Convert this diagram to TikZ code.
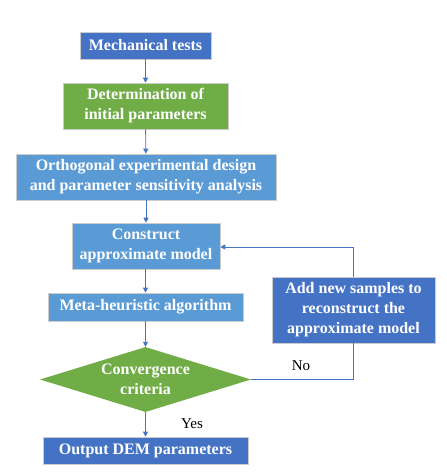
\documentclass[tikz,border=0pt]{standalone}
\usepackage{fontspec}
\setmainfont{Liberation Serif}
\usetikzlibrary{shapes.geometric,arrows.meta}
\definecolor{dblue}{HTML}{4472C4}
\definecolor{lblue}{HTML}{5B9BD5}
\definecolor{gr}{HTML}{70AD47}
\tikzset{
  box/.style={draw=white!80!black, line width=0.6pt, text=white, font=\bfseries\fontsize{16}{20}\selectfont, align=center, inner sep=0pt},
  conn/.style={draw=dblue, line width=0.9pt, -{Triangle[length=5pt,width=5pt]}},
  lbl/.style={font=\fontsize{15}{18}\selectfont, text=black}
}
\begin{document}
\begin{tikzpicture}[x=1pt,y=1pt]
\useasboundingbox (0,0) rectangle (447,-475);
\node[box, fill=dblue, minimum width=131pt, minimum height=27pt] (mt) at (145.5,-45.5) {Mechanical tests};
\node[box, fill=gr, minimum width=165pt, minimum height=46pt] (dp) at (145.5,-106) {Determination of\\initial parameters};
\node[box, fill=lblue, minimum width=260pt, minimum height=46pt] (oe) at (146,-177) {Orthogonal experimental design\\and parameter sensitivity analysis};
\node[box, fill=lblue, minimum width=148pt, minimum height=46pt] (ca) at (146,-246) {Construct\\approximate model};
\node[box, fill=lblue, minimum width=195pt, minimum height=28pt] (mh) at (145.5,-307) {Meta-heuristic algorithm};
\node[box, fill=dblue, minimum width=163pt, minimum height=66pt] (an) at (353.5,-310) {Add new samples to\\reconstruct the\\approximate model};
\node[diamond, fill=gr, text=white, font=\bfseries\fontsize{16}{20}\selectfont, align=center, inner sep=0pt, minimum width=211pt, minimum height=65pt, aspect=3.25] (cc) at (145.5,-379.5) {Convergence\\criteria};
\node[box, fill=dblue, minimum width=205pt, minimum height=27pt] (out) at (145.5,-450.5) {Output DEM parameters};
\coordinate (c1) at (353.5,-379.5);
\coordinate (c2) at (353.5,-247);
\draw[conn] (mt) -- (dp);
\draw[conn] (dp) -- (oe);
\draw[conn] (oe.south -| ca.north) -- (ca);
\draw[conn] (ca.south -| mh.north) -- (mh);
\draw[conn] (mh.south -| cc.north) -- (cc);
\draw[conn] (cc.south -| out.north) -- (out);
\draw[draw=dblue, line width=0.9pt] (cc.east) -- (c1) -- (an.south);
\draw[conn] (an.north) -- (c2) -- (c2 -| ca.east);
\node[lbl] (no) at (301,-366) {No};
\node[lbl] (yes) at (192,-424) {Yes};
\end{tikzpicture}
\end{document}
